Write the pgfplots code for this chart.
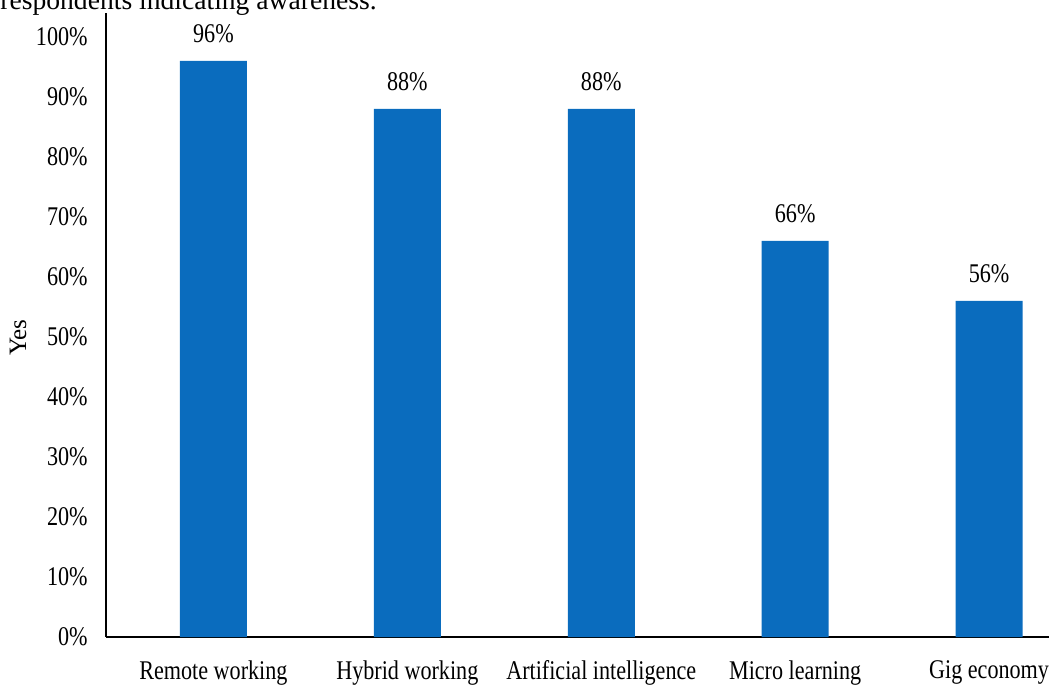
\documentclass[border=0pt]{standalone}
\usepackage{fontspec}
\setmainfont{Liberation Serif}
\newfontfamily\condfont[FakeStretch=0.82]{Liberation Serif}
\usepackage{pgfplots}
\pgfplotsset{compat=1.18}
\definecolor{barblue}{RGB}{10,108,190}
\begin{document}
\begin{tikzpicture}
\useasboundingbox (-53pt,-24.5pt) rectangle (471.5pt,318.5pt);
\begin{axis}[
  at={(0,0)}, anchor=south west,
  scale only axis, width=471.5pt, height=312pt,
  xmin=-0.554, xmax=4.309, ymin=0, ymax=104,
  axis x line*=bottom, axis y line*=left,
  axis line style={-, black, line width=0.9pt},
  ybar, bar width=33.5pt,
  xtick={0,1,2,3,4},
  xticklabels={Remote working, Hybrid working, Artificial intelligence, Micro learning, Gig economy},
  ytick={0,10,20,30,40,50,60,70,80,90,100},
  yticklabels={0\%,10\%,20\%,30\%,40\%,50\%,60\%,70\%,80\%,90\%,100\%},
  major tick length=0pt,
  tick label style={font=\condfont\fontsize{13.5pt}{15pt}\selectfont, inner sep=0pt},
  xticklabel style={anchor=north, yshift=-11.5pt},
  yticklabel style={anchor=east, xshift=-9pt},
  /pgf/number format/assume math mode=true,
  nodes near coords={\pgfmathprintnumber{\pgfplotspointmeta}\%},
  every node near coord/.append style={font=\condfont\fontsize{13.5pt}{15pt}\selectfont, anchor=south, inner sep=0pt, yshift=9pt, black},
]
\addplot[fill=barblue, draw=none] coordinates {(0,96) (1,88) (2,88) (3,66) (4,56)};
\end{axis}
\node[rotate=90, anchor=center, inner sep=0pt, font=\fontsize{12.5pt}{14pt}\selectfont] at (-44pt,149.75pt) {Yes};
\node[anchor=base west, inner sep=0pt, font=\fontsize{13.8pt}{16pt}\selectfont] at (-53pt,313.5pt) {respondents indicating awareness.};
\end{tikzpicture}
\end{document}
